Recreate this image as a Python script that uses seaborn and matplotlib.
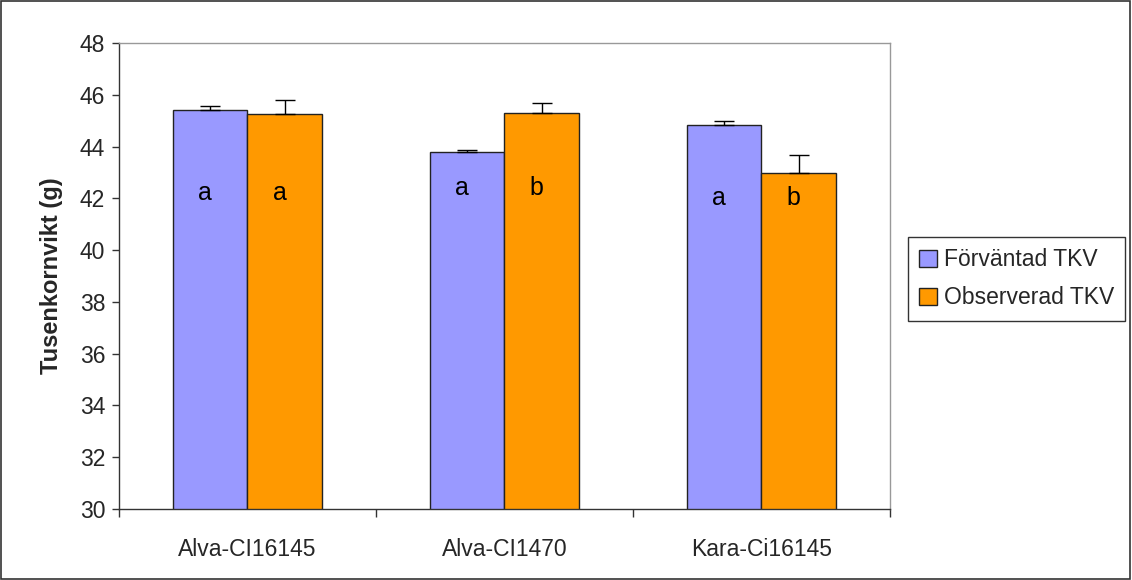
import matplotlib
matplotlib.use("Agg")
import matplotlib.pyplot as plt
from matplotlib.container import BarContainer
import seaborn as sns
import pandas as pd
import numpy as np

categories = ["Alva-CI16145", "Alva-CI1470", "Kara-Ci16145"]
series = ["Förväntad TKV", "Observerad TKV"]
expected = [45.41, 43.78, 44.84]
observed = [45.25, 45.28, 42.98]
expected_err = [0.17, 0.10, 0.16]
observed_err = [0.55, 0.40, 0.68]
expected_letters = ["a", "a", "a"]
observed_letters = ["a", "b", "b"]
letter_y = [42.2, 42.4, 42.0]

sns.set_theme(style="white")
plt.rcParams['font.family'] = ['Liberation Sans', 'DejaVu Sans']

df = pd.DataFrame({
    "cat": categories * 2,
    "series": [series[0]] * 3 + [series[1]] * 3,
    "val": expected + observed,
})

fig = plt.figure(figsize=(11.32, 5.8), dpi=100)
ax = fig.add_axes([119/1132, 1-509/580, (890-119)/1132, (509-43)/580])

sns.barplot(data=df, x="cat", y="val", hue="series", order=categories,
            hue_order=series, palette=["#9999FF", "#FF9900"], width=0.58,
            edgecolor="#222222", linewidth=1, errorbar=None, ax=ax, saturation=1)

errs = [expected_err, observed_err]
letters = [expected_letters, observed_letters]
bar_conts = [c for c in ax.containers if isinstance(c, BarContainer)]
for si, cont in enumerate(bar_conts):
    for ci, bar in enumerate(list(cont.patches)):
        xc = bar.get_x() + bar.get_width() / 2
        h = bar.get_height()
        ax.errorbar([xc], [h], yerr=[[0], [errs[si][ci]]], fmt="none",
                    ecolor="black", elinewidth=1, capsize=7, capthick=1, zorder=5)
        ax.text(xc - 0.02, letter_y[ci], letters[si][ci], ha="center", va="center",
                fontsize=18, color="black")

ax.set_ylim(30, 48)
ax.set_xlim(-0.5, 2.5)
ax.set_yticks(np.arange(30, 49, 2))
ax.set_ylabel("Tusenkornvikt (g)", fontsize=17, fontweight="bold", labelpad=12)
ax.set_xlabel("")
ax.set_xticks([-0.5, 0.5, 1.5, 2.5], minor=True)
ax.tick_params(axis="y", which="major", direction="out", length=5, width=1,
               color="#333333", labelsize=16.5, left=True, pad=5)
ax.tick_params(axis="x", which="major", labelsize=16.5, bottom=False, pad=15)
ax.tick_params(axis="x", which="minor", direction="out", length=6, width=1,
               color="#333333", bottom=True)
for s in ["left", "bottom"]:
    ax.spines[s].set_color("#333333")
    ax.spines[s].set_linewidth(1)
for s in ["top", "right"]:
    ax.spines[s].set_color("#999999")
    ax.spines[s].set_linewidth(1)

leg = ax.legend(loc="upper left", bbox_to_anchor=(908/1132, 1-237/580),
                bbox_transform=fig.transFigure, frameon=True, fontsize=16.5,
                fancybox=False, edgecolor="black", handlelength=0.75,
                handleheight=0.75, handletextpad=0.3, borderpad=0.5,
                labelspacing=0.65, borderaxespad=0)
leg.get_frame().set_linewidth(1)

fig.patches.append(plt.Rectangle((0.001, 0.002), 0.997, 0.996, transform=fig.transFigure,
                                 fill=False, edgecolor="#333333", linewidth=1.2))
fig.savefig("out.png", dpi=100)
